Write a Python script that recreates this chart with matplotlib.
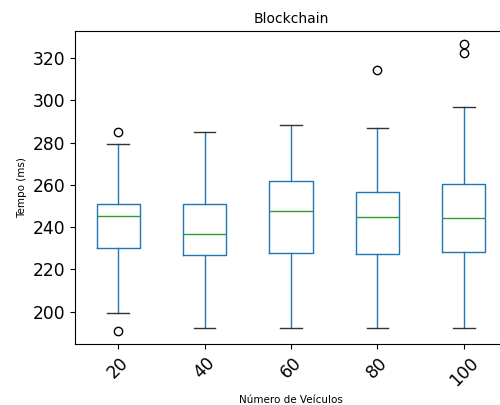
import matplotlib
matplotlib.use("Agg")
import matplotlib.pyplot as plt

# Box statistics per vehicle count
labels = ["20", "40", "60", "80", "100"]
whisker_low = [199.2, 192.4, 192.4, 192.4, 192.4]
q1 = [230.3, 226.8, 227.8, 227.3, 228.1]
median = [245.4, 236.7, 247.6, 244.8, 244.3]
q3 = [251.1, 251.0, 262.0, 256.6, 260.4]
whisker_high = [279.2, 285.0, 288.2, 287.0, 296.8]
outliers = [[285.0, 191.0], [], [], [314.2], [326.5, 322.2]]

stats = []
for i, lab in enumerate(labels):
    stats.append({
        "label": lab,
        "whislo": whisker_low[i],
        "q1": q1[i],
        "med": median[i],
        "q3": q3[i],
        "whishi": whisker_high[i],
        "fliers": outliers[i],
    })

fig = plt.figure(figsize=(5.0, 4.05), dpi=100)
ax = fig.add_axes([0.15, 0.150, 0.864, 0.7735])

blue = "#1f77b4"
ax.bxp(
    stats,
    widths=0.5,
    boxprops=dict(color=blue, linewidth=1.0),
    whiskerprops=dict(color=blue, linewidth=1.0),
    medianprops=dict(color="#2ca02c", linewidth=1.0),
    capprops=dict(color="#333333", linewidth=1.0),
    flierprops=dict(marker="o", markerfacecolor="none", markeredgecolor="black", markersize=6),
)

ax.set_ylim(184.6, 332.8)
ax.set_yticks([200, 220, 240, 260, 280, 300, 320])
ax.tick_params(axis="both", labelsize=12.3)
plt.setp(ax.get_xticklabels(), rotation=45)

ax.set_title("Blockchain", fontsize=10)
ax.set_xlabel("Número de Veículos", fontsize=7.5)
ax.set_ylabel("Tempo (ms)", fontsize=7.5)

fig.savefig("out.png", dpi=100)
